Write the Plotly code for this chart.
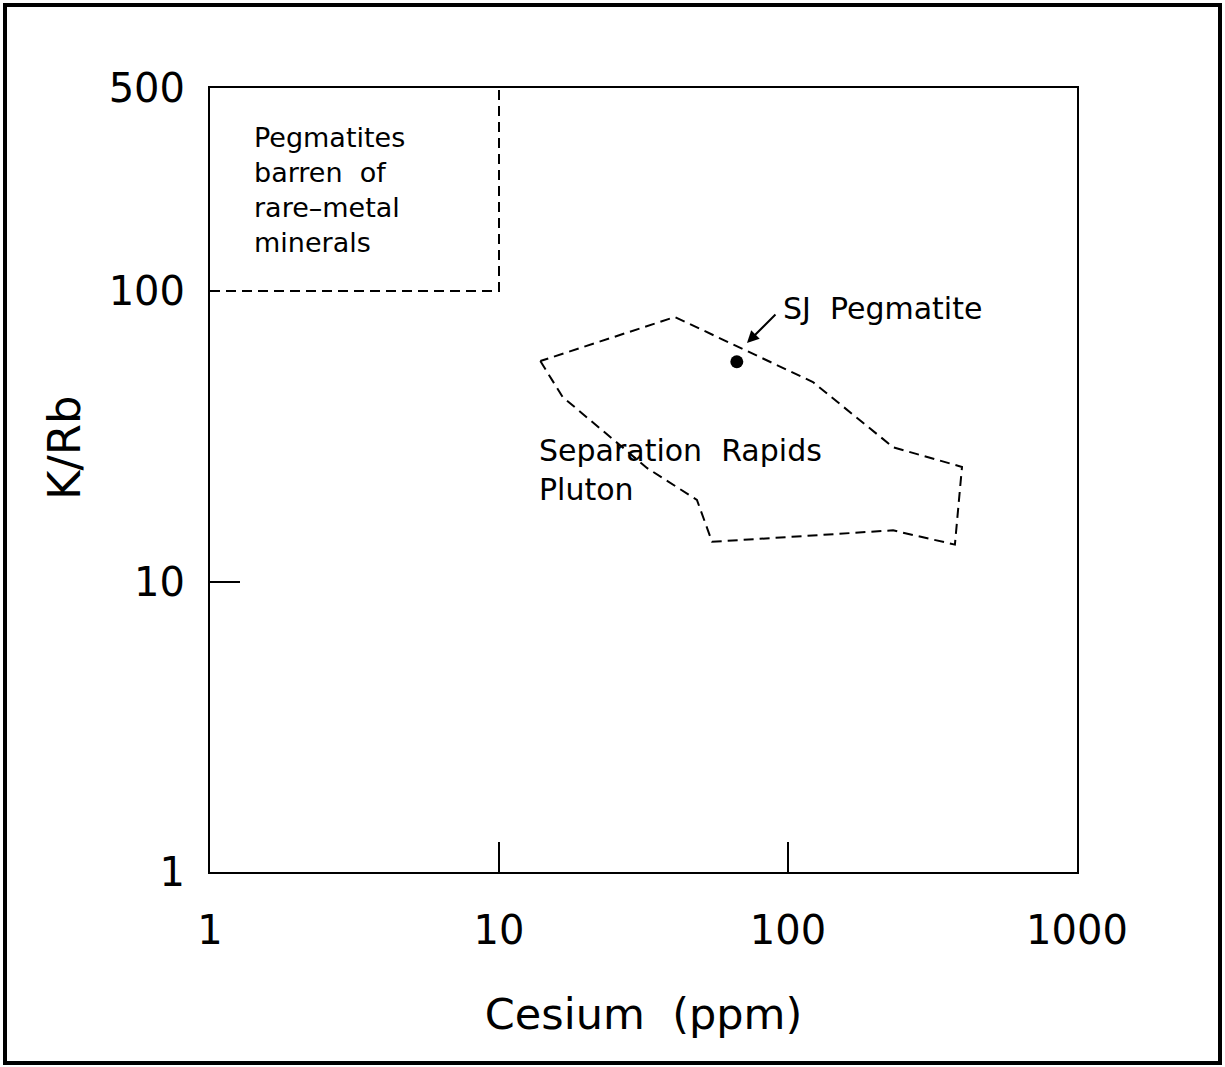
import plotly.graph_objects as go

# Data
pluton_cs = [13.9, 16.6, 32.5, 48.4, 54.6, 231, 378, 400, 231, 122, 40.6, 13.9]
pluton_krb = [57.4, 43.2, 24.6, 19.1, 13.7, 15.0, 13.4, 24.8, 29.0, 48.6, 81.4, 57.4]
barren_cs = [1, 10, 10]
barren_krb = [100, 100, 500]
sj_cs = [66.5]
sj_krb = [57.1]
x_ticks = [1, 10, 100, 1000]
y_ticks = [1, 10, 100, 500]
y_tick_marks = [10]

FONT = "DejaVu Sans"
W, H = 1225, 1067
L, R, T, B = 210, 148, 88, 195
pw, ph = W - L - R, H - T - B

fig = go.Figure()
fig.add_trace(go.Scatter(x=barren_cs, y=barren_krb, mode="lines",
                         line=dict(color="black", width=2, dash="10px,6px"),
                         hoverinfo="skip", showlegend=False))
fig.add_trace(go.Scatter(x=pluton_cs, y=pluton_krb, mode="lines",
                         line=dict(color="black", width=2, dash="10px,6px"),
                         showlegend=False))
fig.add_trace(go.Scatter(x=sj_cs, y=sj_krb, mode="markers",
                         marker=dict(color="black", size=13),
                         showlegend=False))

axis_common = dict(type="log", showgrid=False, zeroline=False, showline=True,
                   linecolor="black", linewidth=2, mirror=True, automargin=False,
                   tickfont=dict(family=FONT, size=40, color="black"))

fig.update_xaxes(range=[0, 3], tickvals=x_ticks, ticktext=[str(v) for v in x_ticks],
                 ticks="inside", ticklen=30, tickwidth=2, tickcolor="black",
                 ticklabelstandoff=22,
                 title=dict(text="Cesium\u00a0 (ppm)", font=dict(family=FONT, size=43, color="black"),
                            standoff=47),
                 **axis_common)
fig.update_yaxes(range=[0, 2.69897], tickvals=y_ticks, ticktext=[str(v) for v in y_ticks],
                 ticks="", ticklabelstandoff=15,
                 minor=dict(tickmode="array", tickvals=y_tick_marks, ticks="inside",
                            ticklen=30, tickwidth=2, tickcolor="black", showgrid=False),
                 **axis_common)

# y-axis title (placed like the original, above the axis centre)
fig.add_annotation(x=(65 - L) / pw, y=(H - B - 448) / ph, xref="paper", yref="paper",
                   text="K/Rb", textangle=-90, showarrow=False,
                   xanchor="center", yanchor="middle",
                   font=dict(family=FONT, size=45, color="black"))

fig.add_annotation(x=0.1455, y=2.3477, xref="x", yref="y",
                   text="Pegmatites<br>barren\u00a0 of<br>rare\u2013metal<br>minerals",
                   showarrow=False, xanchor="left", yanchor="middle", align="left",
                   font=dict(family=FONT, size=27, color="black"))
fig.add_annotation(x=1.976, y=1.9415, xref="x", yref="y", text="SJ\u00a0 Pegmatite",
                   showarrow=False, xanchor="left", yanchor="middle", align="left",
                   font=dict(family=FONT, size=30, color="black"))
fig.add_annotation(x=1.1315, y=1.3838, xref="x", yref="y", text="Separation\u00a0 Rapids<br>Pluton",
                   showarrow=False, xanchor="left", yanchor="middle", align="left",
                   font=dict(family=FONT, size=30, color="black"))
fig.add_annotation(x=1.858, y=1.821, xref="x", yref="y", text="", showarrow=True,
                   ax=30, ay=-30, arrowhead=2, arrowsize=1.2, arrowwidth=2, arrowcolor="black",
                   standoff=0)

# outer frame around the whole figure
fig.add_shape(type="rect", xref="paper", yref="paper",
              x0=(5 - L) / pw, x1=(1220 - L) / pw,
              y0=(H - B - 1063) / ph, y1=(H - B - 5) / ph,
              line=dict(color="black", width=4), fillcolor="rgba(0,0,0,0)")

fig.update_layout(width=W, height=H, margin=dict(l=L, r=R, t=T, b=B),
                  plot_bgcolor="white", paper_bgcolor="white",
                  font=dict(family=FONT, color="black"))

fig.write_html("out.html", config={"displayModeBar": False},
               post_script="document.body.style.margin='0px';")
